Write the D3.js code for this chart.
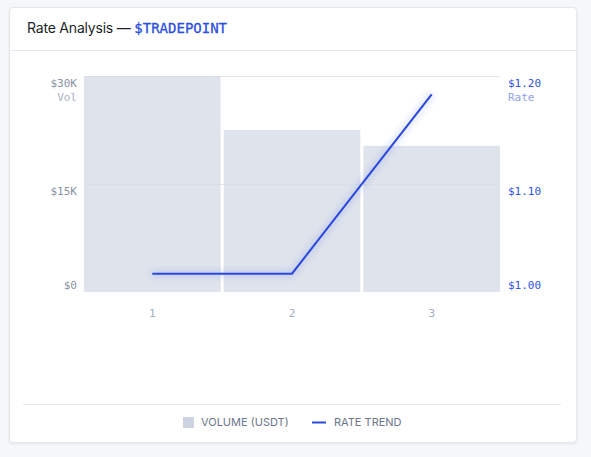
<!DOCTYPE html>
<html>
<head>
<meta charset="utf-8">
<script src="https://cdn.jsdelivr.net/npm/d3@7"></script>
<style>
  html, body { margin: 0; padding: 0; background: #f6f7f9; }
  #card {
    position: absolute; left: 9px; top: 7px; width: 566px; height: 434px;
    background: #fff; border: 1px solid #e4e7ec; border-radius: 4px;
    box-shadow: 0 1px 3px rgba(20, 30, 60, 0.08);
  }
  svg { position: absolute; left: 0; top: 0; }
</style>
</head>
<body>
<div id="card"></div>
<div id="root"></div>
<script>
// data
var periods = ["1", "2", "3"];
var volumes = [30000, 22500, 20300];
var rates = [1.017, 1.017, 1.183];
var volTicks = [0, 15000, 30000];
var volTickLabels = ["$0", "$15K", "$30K"];
var rateTicks = [1.0, 1.1, 1.2];
var rateTickLabels = ["$1.00", "$1.10", "$1.20"];

var w = 591, h = 457;
var margin = { top: 76, right: 91, bottom: 165, left: 84 };
var mono = "'DejaVu Sans Mono', monospace";
var sans = "Inter, 'Noto Sans', sans-serif";

var svg = d3.select("#root").append("svg").attr("width", w).attr("height", h);

// header
svg.append("line").attr("x1", 10).attr("x2", 576).attr("y1", 50.5).attr("y2", 50.5)
  .attr("stroke", "#e6e9ef");
var title = svg.append("text").attr("x", 27).attr("y", 33)
  .attr("font-family", sans).attr("font-size", "14px").attr("fill", "#1b1f2a");
title.append("tspan").attr("letter-spacing", "-0.2px").text("Rate Analysis \u2014 ");
title.append("tspan").attr("font-family", mono).attr("font-size", "14px")
  .attr("fill", "#2c4fe0").attr("stroke", "#2c4fe0").attr("stroke-width", 0.3)
  .text("$TRADEPOINT");

// scales
var x = d3.scaleBand().domain(periods).range([margin.left, w - margin.right])
  .paddingInner(0.022);
var yVol = d3.scaleLinear().domain([0, 30000]).range([h - margin.bottom, margin.top]);
var yRate = d3.scaleLinear().domain([1.0, 1.2]).range([h - margin.bottom, margin.top]);

// gridlines
svg.selectAll(".grid").data(volTicks.slice(1)).enter().append("line")
  .attr("x1", margin.left).attr("x2", w - margin.right)
  .attr("y1", function(d) { return Math.round(yVol(d)) + 0.5; })
  .attr("y2", function(d) { return Math.round(yVol(d)) + 0.5; })
  .attr("stroke", "#eef0f4");

// bars
svg.selectAll(".bar").data(volumes).enter().append("rect")
  .attr("x", function(d, i) { return x(periods[i]); })
  .attr("y", function(d) { return yVol(d); })
  .attr("width", x.bandwidth())
  .attr("height", function(d) { return yVol(0) - yVol(d); })
  .attr("fill", "#dfe3ec");

// gridline over bars, faint
svg.selectAll(".grid2").data(volTicks.slice(1)).enter().append("line")
  .attr("x1", margin.left).attr("x2", w - margin.right)
  .attr("y1", function(d) { return Math.round(yVol(d)) + 0.5; })
  .attr("y2", function(d) { return Math.round(yVol(d)) + 0.5; })
  .attr("stroke", "#d4d9e3").attr("stroke-opacity", 0.5);

// rate line with soft glow
var defs = svg.append("defs");
defs.append("filter").attr("id", "glow").attr("x", "-20%").attr("y", "-20%")
  .attr("width", "140%").attr("height", "140%")
  .append("feGaussianBlur").attr("stdDeviation", 3);
var line = d3.line()
  .x(function(d, i) { return x(periods[i]) + x.bandwidth() / 2; })
  .y(function(d) { return yRate(d); });
svg.append("path").datum(rates).attr("d", line).attr("fill", "none")
  .attr("stroke", "#2c4fe0").attr("stroke-opacity", 0.25).attr("stroke-width", 4)
  .attr("filter", "url(#glow)");
svg.append("path").datum(rates).attr("d", line).attr("fill", "none")
  .attr("stroke", "#2a49dc").attr("stroke-width", 2);

// left axis labels
function labelY(y, i) { return i === 0 ? y - 3 : y + 11; }
svg.selectAll(".volLab").data(volTicks).enter().append("text")
  .attr("x", 77).attr("y", function(d, i) { return labelY(yVol(d), i); })
  .attr("text-anchor", "end").attr("font-family", mono).attr("font-size", "11px")
  .attr("fill", "#8792a6").text(function(d, i) { return volTickLabels[i]; });
svg.append("text").attr("x", 77).attr("y", margin.top + 25).attr("text-anchor", "end")
  .attr("font-family", mono).attr("font-size", "11px").attr("fill", "#a9b1c2").text("Vol");

// right axis labels
svg.selectAll(".rateLab").data(rateTicks).enter().append("text")
  .attr("x", 508).attr("y", function(d, i) { return labelY(yRate(d), i); })
  .attr("font-family", mono).attr("font-size", "11px")
  .attr("fill", "#2f55e6").text(function(d, i) { return rateTickLabels[i]; });
svg.append("text").attr("x", 508).attr("y", margin.top + 25)
  .attr("font-family", mono).attr("font-size", "11px").attr("fill", "#8ea2ee").text("Rate");

// x axis labels
svg.selectAll(".xLab").data(periods).enter().append("text")
  .attr("x", function(d) { return x(d) + x.bandwidth() / 2; })
  .attr("y", 317).attr("text-anchor", "middle")
  .attr("font-family", mono).attr("font-size", "11px").attr("fill", "#a3acbd")
  .text(function(d) { return d; });

// legend
svg.append("line").attr("x1", 23).attr("x2", 561).attr("y1", 404.5).attr("y2", 404.5)
  .attr("stroke", "#e6e9ef");
svg.append("rect").attr("x", 183).attr("y", 417).attr("width", 11).attr("height", 11)
  .attr("fill", "#cbd4e0");
svg.append("text").attr("x", 201).attr("y", 426).attr("font-family", sans)
  .attr("font-size", "11px").attr("fill", "#6b768a")
  .text("VOLUME (USDT)");
svg.append("line").attr("x1", 312).attr("x2", 326).attr("y1", 422.5).attr("y2", 422.5)
  .attr("stroke", "#2a49dc").attr("stroke-width", 2);
svg.append("text").attr("x", 334).attr("y", 426).attr("font-family", sans)
  .attr("font-size", "11px").attr("fill", "#6b768a")
  .text("RATE TREND");
</script>
</body>
</html>
